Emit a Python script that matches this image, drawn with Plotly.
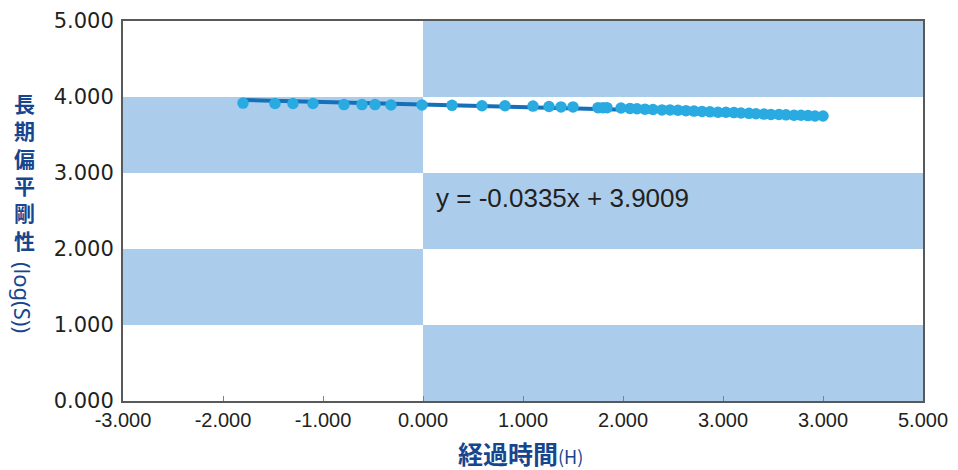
import plotly.graph_objects as go

# data
x_vals = [-1.80, -1.48, -1.30, -1.10, -0.79, -0.61, -0.48, -0.32, -0.01, 0.29,
          0.59, 0.82, 1.10, 1.26, 1.38, 1.50, 1.75, 1.80, 1.84, 1.98,
          2.07, 2.14, 2.22, 2.30, 2.39, 2.47, 2.55, 2.63, 2.71, 2.79,
          2.87, 2.95, 3.03, 3.11, 3.18, 3.26, 3.33, 3.41, 3.48, 3.56,
          3.63, 3.71, 3.78, 3.85, 3.92, 4.00]
y_vals = [3.920, 3.915, 3.915, 3.915, 3.900, 3.900, 3.900, 3.895, 3.895, 3.890,
          3.885, 3.885, 3.880, 3.875, 3.870, 3.870, 3.860, 3.860, 3.860, 3.855,
          3.850, 3.845, 3.840, 3.835, 3.830, 3.830, 3.825, 3.820, 3.815, 3.810,
          3.805, 3.800, 3.800, 3.795, 3.790, 3.785, 3.780, 3.775, 3.770, 3.770,
          3.765, 3.760, 3.760, 3.755, 3.750, 3.750]
slope = -0.0335
intercept = 3.9009
trend_x = [-1.77, 4.00]
x_tick_vals = [-3, -2, -1, 0, 1, 2, 3, 4, 5]
x_tick_text = ["-3.000", "-2.000", "-1.000", "0.000", "1.000", "2.000", "3.000", "3.000", "5.000"]
y_tick_vals = [0, 1, 2, 3, 4, 5]
y_tick_text = ["0.000", "1.000", "2.000", "3.000", "4.000", "5.000"]
y_title_chars = ["長", "期", "偏", "平", "剛", "性"]
# checkerboard bands: (x0, x1, y0, y1)
bands = [(-3, 0, 3, 4), (-3, 0, 1, 2), (0, 5, 4, 5), (0, 5, 2, 3), (0, 5, 0, 1)]

BAND = "#abcdeb"
TITLE_BLUE = "#17468e"

fig = go.Figure()
fig.add_trace(go.Scatter(
    x=trend_x, y=[slope * v + intercept for v in trend_x], mode="lines",
    line=dict(color="#1570b8", width=4), hoverinfo="skip", showlegend=False))
fig.add_trace(go.Scatter(
    x=x_vals, y=y_vals, mode="markers",
    marker=dict(color="#29abe2", size=11.5, line=dict(width=0)), showlegend=False))

for x0, x1, y0, y1 in bands:
    fig.add_shape(type="rect", x0=x0, x1=x1, y0=y0, y1=y1, xref="x", yref="y",
                  fillcolor=BAND, line=dict(width=0), layer="below")

fig.add_annotation(x=0.11, y=2.67, xref="x", yref="y", xanchor="left", yanchor="middle",
                   text="y = -0.0335x + 3.9009", showarrow=False,
                   font=dict(family="Liberation Sans, Arial", size=26, color="#231f20"))

# page offset (body margin) compensation: positions below are target screen px minus 8
OFF = 8
fig.add_annotation(x=24 - OFF, y=171 - OFF, xref="paper", yref="paper",
                   text="<b>" + "<br>".join(y_title_chars) + "</b>", showarrow=False,
                   font=dict(family="Noto Sans CJK JP", size=21, color=TITLE_BLUE),
                   xanchor="center", yanchor="middle")
fig.add_annotation(x=23 - OFF, y=297 - OFF, xref="paper", yref="paper", text="(log(S))", textangle=90,
                   showarrow=False, font=dict(family="Noto Sans", size=22, color=TITLE_BLUE),
                   xanchor="center", yanchor="middle")
fig.add_annotation(x=520 - OFF, y=453 - OFF, xref="paper", yref="paper",
                   text="<b>経過時間</b><span style='font-size:18px'>(H)</span>",
                   showarrow=False, font=dict(family="Noto Sans CJK JP", size=25, color=TITLE_BLUE),
                   xanchor="center", yanchor="middle")

W, H = 950, 462
L, T = 123 - OFF, 21 - OFF
R = W - L - 800
B = H - T - 380

# convert pixel-positioned annotations to paper coords
for ann in fig.layout.annotations:
    if ann.xref == "paper":
        ann.x = (ann.x - L) / (W - L - R)
        ann.y = 1 - (ann.y - T) / (H - T - B)

fig.update_layout(
    width=W, height=H, margin=dict(l=L, r=R, t=T, b=B, autoexpand=False),
    plot_bgcolor="white", paper_bgcolor="white",
    xaxis=dict(range=[-3, 5], tickvals=x_tick_vals, ticktext=x_tick_text,
               showgrid=False, zeroline=False, showline=True, mirror=True,
               linecolor="#58595b", linewidth=2, ticks="inside", ticklen=5,
               tickcolor="#808080", tickwidth=1,
               tickfont=dict(family="Liberation Sans Narrow, Liberation Sans", size=20, color="#231f20")),
    yaxis=dict(range=[0, 5], tickvals=y_tick_vals, ticktext=y_tick_text,
               showgrid=False, zeroline=False, showline=True, mirror=True,
               linecolor="#58595b", linewidth=2, ticks="", ticklabelstandoff=3,
               tickfont=dict(family="DejaVu Sans", size=21, color="#231f20")),
)

fig.write_html("out.html")
